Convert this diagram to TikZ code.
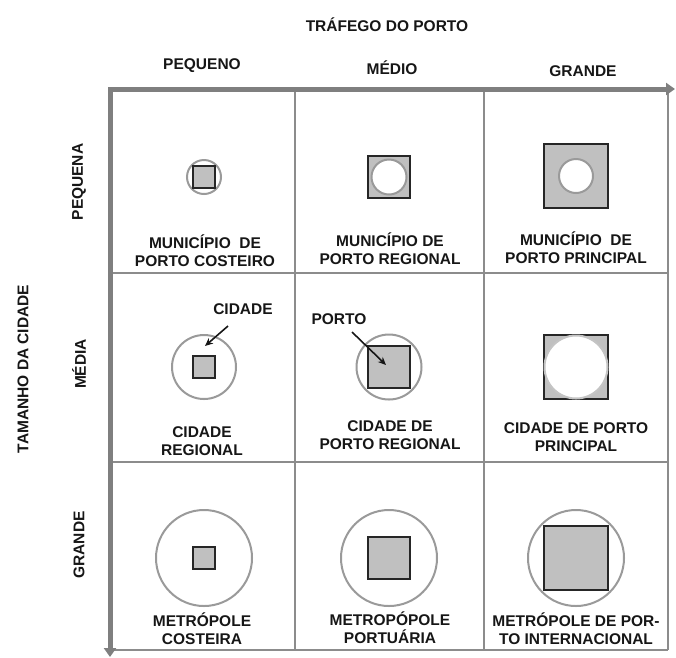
\documentclass[tikz,border=0pt]{standalone}
\usepackage{fontspec}
\setmainfont{Liberation Sans}
\usetikzlibrary{arrows.meta}
\definecolor{axisgray}{HTML}{7F7F7F}
\definecolor{gridgray}{HTML}{8C8C8C}
\definecolor{ringgray}{HTML}{9A9A9A}
\definecolor{lightring}{HTML}{C4C4C4}
\definecolor{sqfill}{HTML}{C0C0C0}
\definecolor{sqedge}{HTML}{262626}
\definecolor{inkc}{HTML}{161616}
\tikzset{
  axisline/.style={draw=axisgray, line width=5pt, line join=miter,
    {Triangle[length=9pt,width=12pt]}-{Triangle[length=9pt,width=12pt]}},
  gridline/.style={draw=gridgray, line width=1.8pt},
  city/.style={circle, draw=ringgray, line width=2pt, fill=white, inner sep=0pt, outer sep=0pt},
  port/.style={rectangle, draw=sqedge, line width=2.6pt, fill=sqfill, inner sep=0pt, outer sep=0pt},
  celltext/.style={text=inkc, align=center, inner sep=0pt,
    font=\bfseries\fontsize{15.5}{18}\selectfont},
  hdrtext/.style={text=inkc, inner sep=0pt, font=\bfseries\fontsize{15.5}{18}\selectfont},
  pointer/.style={draw=inkc, line width=1.6pt, -{Stealth[length=8pt,width=7pt]}},
}
\begin{document}
\begin{tikzpicture}[x=1pt,y=-1pt]
\useasboundingbox (0,0) rectangle (676,657);
% grid
\draw[gridline] (295,89) -- (295,650);
\draw[gridline] (484,89) -- (484,650);
\draw[gridline] (668,89) -- (668,650);
\draw[gridline] (110,273) -- (668,273);
\draw[gridline] (110,462) -- (668,462);
\draw[gridline] (110,650) -- (668,650);
% axes
\coordinate (xend) at (675,89);
\coordinate (corner) at (110,89);
\coordinate (yend) at (110,657);
\draw[axisline] (xend) -- (corner) -- (yend);
% headers
\node[hdrtext] (traf) at (387,25) {TRÁFEGO DO PORTO};
\node[hdrtext] (hpeq) at (202,66) {PEQUENO};
\node[hdrtext] (hmed) at (392,68) {MÉDIO};
\node[hdrtext] (hgra) at (583,71) {GRANDE};
\node[hdrtext, rotate=90] (tam) at (23,369) {TAMANHO DA CIDADE};
\node[hdrtext, rotate=90] (vpeq) at (79,182) {PEQUENA};
\node[hdrtext, rotate=90] (vmed) at (79,364) {MÉDIA};
\node[hdrtext, rotate=90] (vgra) at (79,545) {GRANDE};
% row 1
\node[city, minimum size=34pt] (c11) at (204,177) {};
\node[port, minimum size=22pt] (p11) at (204,177) {};
\node[port, minimum size=42pt] (p12) at (389,177) {};
\node[city, minimum size=35pt] (c12) at (389,177) {};
\node[port, minimum size=64pt] (p13) at (576,176) {};
\node[city, minimum size=34pt] (c13) at (576,176) {};
\node[celltext] (t11) at (205,251) {MUNICÍPIO~ DE\\PORTO COSTEIRO};
\node[celltext] (t12) at (390,249) {MUNICÍPIO DE\\PORTO REGIONAL};
\node[celltext] (t13) at (576,248) {MUNICÍPIO~ DE\\PORTO PRINCIPAL};
% row 2
\node[city, minimum size=64pt] (c21) at (204,367) {};
\node[port, minimum size=22pt] (p21) at (204,367) {};
\node[city, minimum size=65pt] (c22) at (389,367) {};
\node[port, minimum size=42pt] (p22) at (389,367) {};
\node[port, minimum size=64pt] (p23) at (576,367) {};
\node[city, draw=lightring, minimum size=63pt] (c23) at (576,367) {};
\node[celltext] (cidlbl) at (243,309) {CIDADE};
\coordinate (cidfrom) at (228,326);
\coordinate (cidtip) at (205,346);
\draw[pointer] (cidfrom) -- (cidtip);
\node[celltext] (portlbl) at (339,319) {PORTO};
\coordinate (portfrom) at (352,332);
\coordinate (porttip) at (386,365);
\draw[pointer] (portfrom) -- (porttip);
\node[celltext] (t21) at (202,441) {CIDADE\\REGIONAL};
\node[celltext] (t22) at (390,435) {CIDADE DE\\PORTO REGIONAL};
\node[celltext] (t23) at (576,437) {CIDADE DE PORTO\\PRINCIPAL};
% row 3
\node[city, minimum size=96pt] (c31) at (204,558) {};
\node[port, minimum size=22pt] (p31) at (204,558) {};
\node[city, minimum size=96pt] (c32) at (389,558) {};
\node[port, minimum size=42pt] (p32) at (389,558) {};
\node[city, minimum size=96pt] (c33) at (576,558) {};
\node[port, minimum size=64pt] (p33) at (576,558) {};
\node[celltext] (t31) at (202,629) {METRÓPOLE\\COSTEIRA};
\node[celltext] (t32) at (390,628) {METROPÓPOLE\\PORTUÁRIA};
\node[celltext] (t33) at (576,629) {METRÓPOLE DE POR-\\TO INTERNACIONAL};
\end{tikzpicture}
\end{document}
